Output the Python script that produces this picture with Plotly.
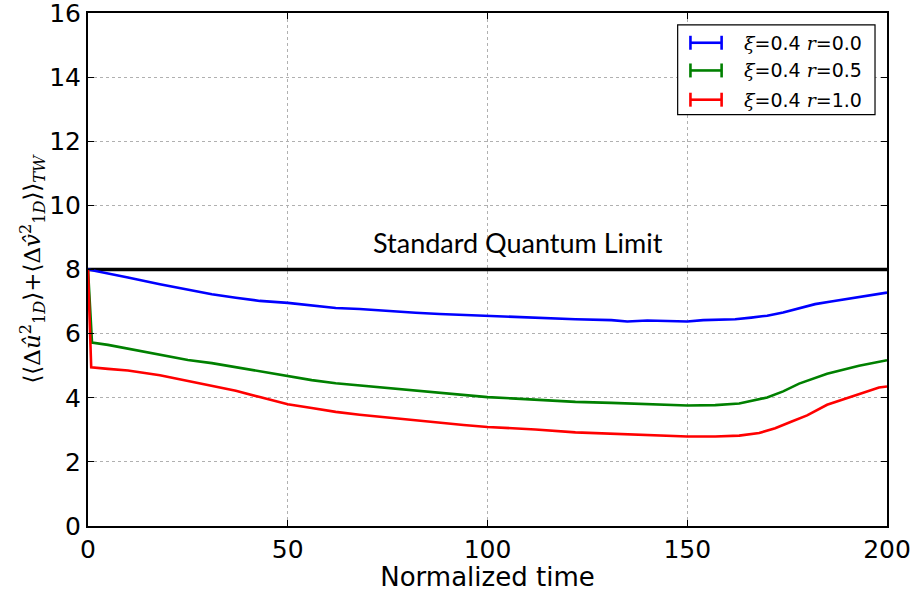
import plotly.graph_objects as go

# ---- data ----
t_blue = [0, 3, 10, 18, 25, 31, 37, 43, 50, 56, 62, 68, 75, 82, 88, 94, 100, 106, 112, 122,
          131, 135, 140, 145, 150, 154, 158, 162, 166, 170, 174, 178, 182, 186, 190, 195, 200]
v_blue = [8.0, 7.93, 7.75, 7.54, 7.38, 7.23, 7.12, 7.02, 6.96, 6.88, 6.80, 6.77, 6.70, 6.65, 6.61, 6.58, 6.55, 6.52, 6.49, 6.45,
          6.42, 6.38, 6.41, 6.39, 6.38, 6.42, 6.44, 6.45, 6.50, 6.56, 6.66, 6.80, 6.92, 7.00, 7.08, 7.18, 7.28]

t_green = [0, 1, 5, 10, 18, 25, 31, 37, 43, 50, 56, 62, 68, 75, 82, 88, 94, 100, 106, 112, 122,
           131, 140, 150, 157, 163, 170, 174, 178, 185, 193, 200]
v_green = [8.0, 5.72, 5.65, 5.53, 5.33, 5.18, 5.08, 4.95, 4.82, 4.66, 4.55, 4.45, 4.38, 4.29, 4.21, 4.14, 4.08, 4.02, 3.98, 3.94, 3.87,
           3.84, 3.80, 3.76, 3.77, 3.82, 4.01, 4.20, 4.44, 4.75, 5.00, 5.17]

t_red = [0, 0.8, 5, 10, 18, 25, 31, 37, 43, 50, 56, 62, 68, 75, 82, 88, 94, 100, 106, 112, 122,
         131, 140, 150, 157, 163, 168, 172, 176, 180, 185, 190, 194, 198, 200]
v_red = [8.0, 4.95, 4.90, 4.85, 4.70, 4.52, 4.38, 4.22, 4.02, 3.80, 3.68, 3.56, 3.47, 3.38, 3.29, 3.21, 3.15, 3.09, 3.05, 3.01, 2.92,
         2.88, 2.83, 2.79, 2.79, 2.82, 2.90, 3.05, 3.25, 3.45, 3.78, 3.98, 4.15, 4.32, 4.35]

sql_t = [0, 200]
sql_v = [8, 8]

series_names = ["ξ=0.4 r=0.0", "ξ=0.4 r=0.5", "ξ=0.4 r=1.0"]
colors = ["#0000ff", "#008000", "#ff0000"]
x_ticks = [0, 50, 100, 150, 200]
y_ticks = [0, 2, 4, 6, 8, 10, 12, 14, 16]

fig = go.Figure()
fig.add_trace(go.Scatter(x=sql_t, y=sql_v, mode="lines",
                         line=dict(color="black", width=3.5), showlegend=False, hoverinfo="skip"))
for (tt, vv), nm, c in zip([(t_blue, v_blue), (t_green, v_green), (t_red, v_red)], series_names, colors):
    fig.add_trace(go.Scatter(x=tt, y=vv, mode="lines", name=nm,
                             line=dict(color=c, width=2.6), showlegend=False))

# ---- manual legend (matplotlib style error-bar handles) ----
shapes = []
annotations = []
box = dict(x0=0.738, x1=0.985, y0=0.802, y1=0.977)
shapes.append(dict(type="rect", xref="paper", yref="paper", **box,
                   line=dict(color="black", width=1.2), fillcolor="white", layer="above"))
rows_y = [0.942, 0.888, 0.831]
sx0, sx1, cap = 0.754, 0.793, 0.0136
for ry, c, nm in zip(rows_y, colors, series_names):
    shapes.append(dict(type="line", xref="paper", yref="paper", x0=sx0, x1=sx1, y0=ry, y1=ry,
                       line=dict(color=c, width=2.6), layer="above"))
    for sx in (sx0, sx1):
        shapes.append(dict(type="line", xref="paper", yref="paper", x0=sx, x1=sx,
                           y0=ry - cap, y1=ry + cap, line=dict(color=c, width=2.6), layer="above"))
    xi, rest = nm.split(" ")
    rv = rest.split("=")[1]
    txt = ("<span style='font-family:DejaVu Serif'><i>ξ</i></span>=" + xi.split("=")[1] +
           " <span style='font-family:DejaVu Serif'><i>r</i></span>=" + rv)
    annotations.append(dict(xref="paper", yref="paper", x=0.818, y=ry, xanchor="left", yanchor="middle",
                            text=txt, showarrow=False, font=dict(family="DejaVu Sans", size=19, color="black")))

annotations.append(dict(x=107.7, y=8.84, xref="x", yref="y", text="Standard Quantum Limit",
                        showarrow=False, font=dict(family="Lato", size=27, color="black")))

fig.update_layout(
    width=916, height=592,
    margin=dict(l=88, r=29, t=13, b=66),
    paper_bgcolor="white", plot_bgcolor="white",
    shapes=shapes, annotations=annotations,
    font=dict(family="DejaVu Sans", size=25, color="black"),
)
fig.update_xaxes(range=[0, 200], tickvals=x_ticks, showgrid=True, gridcolor="#b0b0b0", griddash="dot",
                 gridwidth=1, showline=True, linecolor="black", linewidth=2, mirror="ticks",
                 ticks="inside", ticklen=6, tickcolor="black", zeroline=False, automargin=False,
                 ticklabeloverflow="allow",
                 title=dict(text="Normalized time", font=dict(size=26), standoff=0),
                 tickfont=dict(size=25))
fig.update_yaxes(range=[0, 16], tickvals=y_ticks, showgrid=True, gridcolor="#b0b0b0", griddash="dot",
                 gridwidth=1, showline=True, linecolor="black", linewidth=2, mirror="ticks",
                 ticks="inside", ticklen=6, tickcolor="black", zeroline=False, automargin=False,
                 ticklabeloverflow="allow",
                 title=dict(text="⟨⟨Δ<i>û</i><sup>2</sup><sub>1<i>D</i></sub>⟩+⟨Δ<i>v̂</i><sup>2</sup><sub>1<i>D</i></sub>⟩⟩<sub><i>TW</i></sub>",
                            font=dict(family="DejaVu Serif", size=23), standoff=0),
                 tickfont=dict(size=25))

fig.write_html("out.html", config={"displayModeBar": False},
               post_script="document.body.style.margin='0';")
